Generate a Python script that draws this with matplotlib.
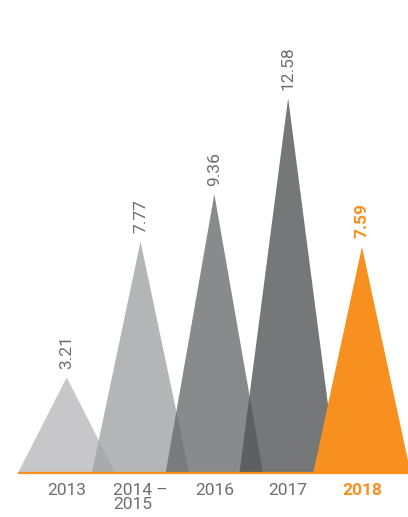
import matplotlib.pyplot as plt

# chart values
years = ['2013', '2014 –\n2015', '2016', '2017', '2018']
values = [3.21, 7.77, 9.36, 12.58, 7.59]
value_labels = ['3.21', '7.77', '9.36', '12.58', '7.59']
fills = ['#bababc', '#a2a3a5', '#6c6d6f', '#545557', '#f7901e']
alphas = [0.8, 0.8, 0.8, 0.8, 1.0]

orange = '#f7901e'
text_grey = '#6d6e70'
half_w = 0.66

plt.rcParams['font.family'] = ['Roboto', 'DejaVu Sans']

fig = plt.figure(figsize=(4.08, 5.17), dpi=100)
ax = fig.add_axes([18 / 408, 44 / 517, 1 - 18 / 408, 473 / 517])

for i, v in enumerate(values):
    ax.fill([i - half_w, i, i + half_w], [0, v, 0],
            color=fills[i], alpha=alphas[i], linewidth=0)
    last = i == len(values) - 1
    ax.annotate(value_labels[i], (i, v), xytext=(0, 6), textcoords='offset points',
                rotation=90, ha='center', va='bottom', fontsize=12.5,
                color=orange if last else text_grey,
                fontweight='bold' if last else 'normal')

# orange baseline
ax.plot([-half_w, 5], [0, 0], color=orange, linewidth=1.6, clip_on=False,
        solid_capstyle='butt')

ax.set_xlim(-half_w, (408 - 67) / 73.75)
ax.set_ylim(0, 473 / 29.8)
ax.set_xticks(range(len(years)))
ax.set_xticklabels(years, fontsize=12.5, color=text_grey, multialignment='left',
                   linespacing=0.95)
ax.tick_params(axis='x', length=0, pad=7)
ax.set_yticks([])
for s in ax.spines.values():
    s.set_visible(False)

lbl = ax.get_xticklabels()[-1]
lbl.set_color(orange)
lbl.set_fontweight('bold')

fig.savefig('out.png', dpi=100)
